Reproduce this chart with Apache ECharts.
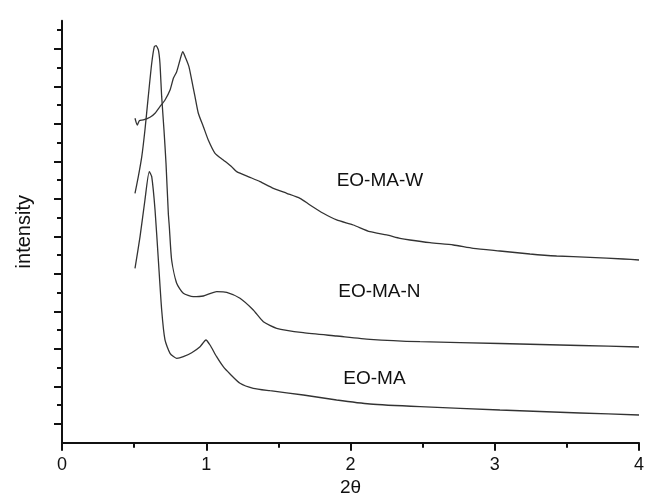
<!DOCTYPE html>
<html>
<head>
<meta charset="utf-8">
<script src="https://cdn.jsdelivr.net/npm/echarts@6/dist/echarts.min.js"></script>
<style>
html,body{margin:0;padding:0;background:#fff;}
#chart{width:646px;height:498px;}
</style>
</head>
<body>
<div id="chart"></div>
<script>
// EO-MA-W
var wX = [0.506,0.522,0.536,0.564,0.610,0.645,0.679,0.714,0.749,0.772,0.795,0.818,0.837,0.858,0.880,0.899,0.922,0.945,0.980,1.014,1.061,1.118,1.176,1.211,1.303,1.373,1.465,1.558,1.650,1.719,1.811,1.904,2.019,2.135,2.251,2.343,2.412,2.551,2.713,2.851,3.036,3.244,3.429,3.660,3.891,4.0];
var wY = [8.651,8.472,8.587,8.605,8.677,8.784,8.960,9.139,9.405,9.717,9.893,10.205,10.427,10.251,10.027,9.672,9.227,8.784,8.427,8.072,7.717,7.539,7.360,7.227,7.077,6.960,6.784,6.651,6.517,6.339,6.117,5.939,5.805,5.627,5.539,5.451,5.405,5.333,5.272,5.184,5.112,5.032,4.979,4.944,4.899,4.872];
// EO-MA-N
var nX = [0.506,0.529,0.553,0.575,0.598,0.622,0.640,0.652,0.668,0.679,0.691,0.707,0.721,0.737,0.744,0.760,0.795,0.841,0.910,0.980,1.072,1.142,1.234,1.326,1.396,1.488,1.673,1.904,2.135,2.482,3.036,3.591,4.0];
var nY = [6.651,7.093,7.627,8.339,9.227,10.117,10.560,10.587,10.472,10.117,9.227,8.339,7.451,6.117,5.760,4.872,4.251,3.984,3.893,3.912,4.027,4.011,3.851,3.539,3.227,3.051,2.933,2.845,2.757,2.693,2.645,2.592,2.552];
// EO-MA
var mX = [0.506,0.541,0.575,0.605,0.622,0.645,0.668,0.691,0.714,0.749,0.795,0.841,0.899,0.957,0.998,1.026,1.072,1.118,1.165,1.234,1.326,1.442,1.673,1.904,2.135,2.482,3.036,3.591,4.0];
var mY = [4.651,5.493,6.472,7.227,7.093,6.205,4.872,3.539,2.739,2.384,2.251,2.293,2.400,2.560,2.739,2.605,2.293,2.027,1.832,1.584,1.451,1.387,1.272,1.139,1.032,0.960,0.872,0.792,0.739];

var xTicks = [0,1,2,3,4];
var yMajorTicks = [0.5,1.5,2.5,3.5,4.5,5.5,6.5,7.5,8.5,9.5,10.5];
var yMinorTicks = [1,2,3,4,5,6,7,8,9,10,11];
var seriesNames = ['EO-MA-W','EO-MA-N','EO-MA'];
var labelX = [1.904,1.915,1.950];
var labelY = [6.987,4.027,1.717];

function zip(a,b){ return a.map(function(v,i){ return [v,b[i]]; }); }
var FONT = '"Liberation Sans", Arial, sans-serif';

var chart = echarts.init(document.getElementById('chart'), null, {renderer:'canvas'});
var lineStyle = {color:'#333', width:1.3};
var option = {
  animation:false,
  backgroundColor:'#fff',
  grid:{left:62, right:7, top:20.8, bottom:55.3, containLabel:false, outerBoundsMode:'none'},
  xAxis:{
    type:'value', min:0, max:4, interval:1,
    name:'2θ', nameLocation:'middle', nameGap:36,
    nameTextStyle:{fontFamily:FONT, fontSize:19, color:'#111'},
    axisLine:{show:true, lineStyle:{color:'#111', width:2}},
    axisTick:{show:true, length:8, inside:false, lineStyle:{color:'#111', width:2}},
    minorTick:{show:true, splitNumber:2, length:5, lineStyle:{color:'#111', width:2}},
    axisLabel:{fontFamily:FONT, fontSize:18, color:'#111', margin:13,
      customValues:xTicks},
    splitLine:{show:false}
  },
  yAxis:[{
    type:'value', min:0, max:11.25,
    name:'intensity', nameLocation:'middle', nameGap:28, nameRotate:90,
    nameTextStyle:{fontFamily:FONT, fontSize:20, color:'#111'},
    axisLine:{show:true, onZero:false, lineStyle:{color:'#111', width:2}},
    axisTick:{show:true, length:8, customValues:yMajorTicks, lineStyle:{color:'#111', width:2}},
    axisLabel:{show:false},
    splitLine:{show:false}
  },{
    type:'value', min:0, max:11.25, position:'left', offset:0,
    axisLine:{show:false},
    axisTick:{show:true, length:5, customValues:yMinorTicks, lineStyle:{color:'#111', width:2}},
    axisLabel:{show:false},
    splitLine:{show:false}
  }],
  series:[
    {name:seriesNames[0], type:'line', data:zip(wX,wY), showSymbol:false, symbol:'none', lineStyle:lineStyle, smooth:0.2},
    {name:seriesNames[1], type:'line', data:zip(nX,nY), showSymbol:false, symbol:'none', lineStyle:lineStyle, smooth:0.2},
    {name:seriesNames[2], type:'line', data:zip(mX,mY), showSymbol:false, symbol:'none', lineStyle:lineStyle, smooth:0.2}
  ]
};
chart.setOption(option);
var g = seriesNames.map(function(n,i){
  var p = chart.convertToPixel({gridIndex:0},[labelX[i],labelY[i]]);
  return {type:'text', x:p[0], y:p[1], style:{text:n, fontFamily:FONT, fontSize:19, fill:'#111', align:'left', verticalAlign:'middle'}};
});
chart.setOption({graphic:g});
</script>
</body>
</html>
